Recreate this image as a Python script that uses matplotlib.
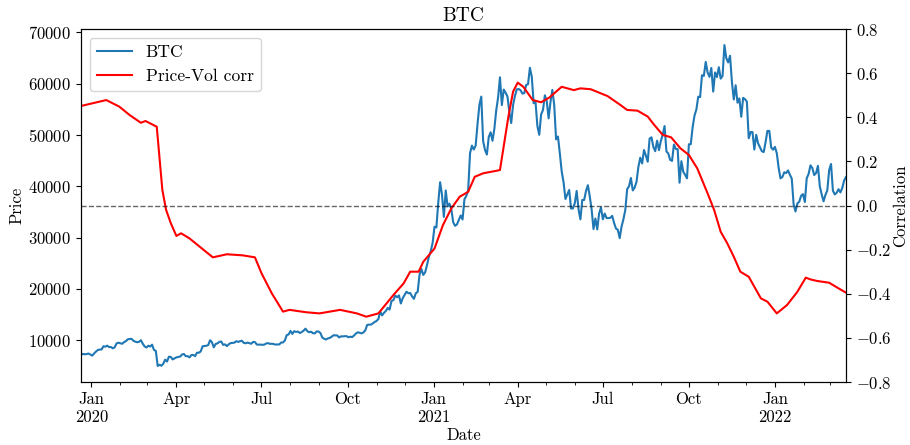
import matplotlib
matplotlib.use('Agg')
import matplotlib.pyplot as plt
import matplotlib.dates as mdates
import matplotlib.ticker as mticker
import pandas as pd

plt.rcParams['font.family'] = 'serif'
plt.rcParams['font.serif'] = ['cmr10']
plt.rcParams['mathtext.fontset'] = 'cm'
plt.rcParams['axes.formatter.use_mathtext'] = True
plt.rcParams['font.size'] = 12

# ---------------- data ----------------
# BTC closing price, one value every 2 days starting 2019-12-21
price_start = '2019-12-21'
btc_price = [
    # Dec 2019
    7144, 7325, 7238, 7290, 7397, 7193,
    # Jan 2020
    6985, 7411, 7769, 8079, 8166, 8192, 8812, 8723, 8929, 8657, 8660, 8406, 8596, 9358, 9508,
    # Feb 2020
    9392, 9293, 9613, 9808, 10162, 10233, 10255, 9894, 9706, 9600, 9667, 9986, 9316, 8786, 8562,
    # Mar 2020
    8910, 8756, 9122, 8108, 7909, 4970, 5201, 5014, 5410, 6198, 5830, 6772, 6732, 6242, 6436,
    # Apr 2020
    6641, 6733, 6795, 7202, 7302, 6883, 6880, 6642, 7096, 7120, 6880, 7550, 7550, 7796, 8801,
    # May 2020
    8864, 8911, 9031, 9986, 9592, 8601, 9269, 9379, 9670, 9729, 9081, 9181, 8835, 9204, 9428, 9461,
    # Jun 2020
    9520, 9790, 9665, 9770, 9897, 9480, 9386, 9527, 9411, 9303, 9648, 9629, 9147, 9116, 9138,
    # Jul 2020
    9087, 9133, 9350, 9427, 9277, 9303, 9243, 9133, 9170, 9164, 9536, 9551, 9931, 10990, 11110,
    # Aug 2020
    11800, 11225, 11750, 11600, 11680, 11400, 11580, 11850, 12250, 11760, 11540, 11650, 11360, 11320, 11710, 11680,
    # Sep 2020
    11400, 10510, 10280, 10130, 10340, 10440, 10680, 10950, 10940, 10920, 10530, 10750, 10730, 10780, 10780,
    # Oct 2020
    10570, 10670, 10600, 10920, 11300, 11540, 11430, 11320, 11510, 11920, 12970, 13030, 13030, 13270, 13550,
    # Nov 2020
    13740, 14130, 15580, 14830, 15330, 15700, 16290, 15960, 17650, 17800, 18680, 18370, 18730, 17150, 18180,
    # Dec 2020
    18800, 19450, 19150, 19190, 18540, 18060, 19140, 19430, 22800, 23860, 22720, 23240, 24660, 26270, 27360, 28990,
    # Jan 2021
    32130, 31970, 36820, 40800, 38360, 34040, 39190, 36070, 36630, 35510, 32990, 32290, 32570, 33470, 34320,
    # Feb 2021
    33530, 37470, 38140, 39270, 46480, 47940, 47170, 47950, 52150, 55890, 57490, 48820, 47090, 46190,
    # Mar 2021
    49630, 50540, 48880, 51210, 54820, 57330, 61260, 55850, 58870, 58250, 57520, 54530, 52340, 55840, 57630, 58920,
    # Apr 2021
    58970, 58730, 58080, 58170, 59770, 59900, 63110, 61380, 56200, 56470, 51760, 50050, 54020, 54880, 57750,
    # May 2021
    56630, 53250, 56430, 58800, 55860, 49150, 49720, 46430, 42910, 40780, 37530, 38400, 39290, 35680, 35680,
    # Jun 2021
    36690, 39100, 35520, 33560, 37340, 37340, 39100, 40220, 38050, 35480, 31680, 33720, 31600, 34700, 35870,
    # Jul 2021
    33570, 34690, 33810, 33800, 33860, 34240, 32880, 31780, 31530, 29900, 32140, 33580, 35380, 39450, 40010, 41630,
    # Aug 2021
    39200, 39750, 40870, 43800, 45590, 44450, 47080, 46000, 44800, 49320, 49550, 47700, 46850, 48900, 47050,
    # Sep 2021
    48850, 50040, 51750, 46800, 46400, 45160, 44960, 48150, 47300, 47260, 40700, 44900, 42840, 42230, 41560,
    # Oct 2021
    48200, 48200, 51510, 53800, 54970, 57480, 57400, 61670, 61530, 64260, 62210, 61360, 63080, 58480, 62210, 61300,
    # Nov 2021
    63230, 61000, 61530, 67550, 64990, 64160, 65470, 60370, 56940, 59700, 56300, 57140, 53570, 57250, 57000,
    # Dec 2021
    56500, 49370, 50580, 50580, 47170, 50050, 48380, 47630, 46850, 46680, 48620, 50820, 50800, 47590, 47140,
    # Jan 2022
    47690, 46460, 43570, 41550, 41820, 42740, 42590, 43100, 42250, 41500, 36460, 35100, 36650, 37000, 38150, 38480,
    # Feb 2022
    36950, 41570, 42410, 44090, 43570, 42200, 42590, 44000, 40000, 38410, 37070, 38330, 39210, 43190,
    # Mar 2022
    44350, 39150, 38420, 38740, 39440, 38810, 39670, 41140, 41800,
]

corr_dates = [
    '2019-12-21', '2020-01-02', '2020-01-17', '2020-01-31', '2020-02-11',
    '2020-02-23', '2020-02-28', '2020-03-11', '2020-03-17', '2020-03-21',
    '2020-03-26', '2020-04-01', '2020-04-06', '2020-04-15', '2020-04-26',
    '2020-05-10', '2020-05-25', '2020-06-11', '2020-06-24', '2020-07-01',
    '2020-07-12', '2020-07-24', '2020-07-31', '2020-08-18', '2020-09-01',
    '2020-09-23', '2020-10-11', '2020-10-21', '2020-11-03', '2020-11-19',
    '2020-11-30', '2020-12-07', '2020-12-16', '2020-12-21', '2021-01-02',
    '2021-01-11', '2021-01-20', '2021-01-29', '2021-02-07', '2021-02-14',
    '2021-02-23', '2021-03-10', '2021-03-13', '2021-03-22', '2021-03-27',
    '2021-04-01', '2021-04-07', '2021-04-17', '2021-04-26', '2021-05-05',
    '2021-05-18', '2021-05-31', '2021-06-07', '2021-06-18', '2021-07-06',
    '2021-07-20', '2021-07-27', '2021-08-07', '2021-08-18', '2021-08-25',
    '2021-09-03', '2021-09-12', '2021-09-22', '2021-10-01', '2021-10-10',
    '2021-10-21', '2021-10-28', '2021-11-04', '2021-11-11', '2021-11-18',
    '2021-11-25', '2021-12-04', '2021-12-17', '2021-12-24', '2022-01-03',
    '2022-01-14', '2022-01-25', '2022-02-03', '2022-02-08', '2022-02-15',
    '2022-02-28', '2022-03-09', '2022-03-18',
]
corr_values = [
    0.451, 0.463, 0.478, 0.448, 0.410,
    0.375, 0.383, 0.357, 0.070, -0.020,
    -0.080, -0.138, -0.126, -0.149, -0.187,
    -0.235, -0.221, -0.226, -0.235, -0.307,
    -0.398, -0.481, -0.473, -0.484, -0.489,
    -0.473, -0.489, -0.504, -0.489, -0.406,
    -0.353, -0.300, -0.300, -0.255, -0.195,
    -0.089, -0.013, 0.040, 0.062, 0.130,
    0.146, 0.158, 0.161, 0.403, 0.516,
    0.557, 0.538, 0.478, 0.468, 0.490,
    0.538, 0.523, 0.531, 0.527, 0.496,
    0.455, 0.433, 0.430, 0.403, 0.365,
    0.320, 0.309, 0.259, 0.229, 0.168,
    0.055, -0.020, -0.119, -0.171, -0.232,
    -0.300, -0.323, -0.421, -0.436, -0.489,
    -0.451, -0.391, -0.327, -0.335, -0.342,
    -0.350, -0.373, -0.395,
]

x_start = '2019-12-21'
x_end = '2022-03-18'

price_dates = pd.date_range(price_start, periods=len(btc_price), freq='2D')
corr_dt = pd.to_datetime(corr_dates)

# ---------------- plot ----------------
fig = plt.figure(figsize=(9.1, 4.45), dpi=100)
ax = fig.add_axes([81 / 910, 1 - 382 / 445, (846 - 81) / 910, (382 - 29) / 445])

l1, = ax.plot(price_dates, btc_price, color='#1f77b4', lw=1.5, label='BTC')
ax.set_xlim(pd.Timestamp(x_start), pd.Timestamp(x_end))
ax.set_ylabel('Price', labelpad=3)
ax.set_xlabel('Date', labelpad=2)
ax.set_title('BTC', fontsize=14)
ax.yaxis.set_major_locator(mticker.MultipleLocator(10000))

ax2 = ax.twinx()
l2, = ax2.plot(corr_dt, corr_values, color='red', lw=1.5, label='Price-Vol corr')
ax2.axhline(0, color='black', alpha=0.6, ls='--', lw=1)
ax2.set_ylim(-0.8, 0.8)
ax2.set_ylabel('Correlation', labelpad=1)
ax2.yaxis.set_major_locator(mticker.MultipleLocator(0.2))

ax.xaxis.set_major_locator(mdates.MonthLocator(bymonth=[1, 4, 7, 10]))
ax.xaxis.set_minor_locator(mdates.MonthLocator())


def fmt(x, pos=None):
    d = mdates.num2date(x)
    s = d.strftime('%b')
    if d.month == 1:
        s += '\n' + d.strftime('%Y')
    return s


ax.xaxis.set_major_formatter(mticker.FuncFormatter(fmt))
for lab in ax.get_xticklabels():
    lab.set_ha('center')

ax2.legend([l1, l2], ['BTC', 'Price-Vol corr'], loc='upper left', fontsize=12.6)

fig.savefig('out.png', dpi=100)
